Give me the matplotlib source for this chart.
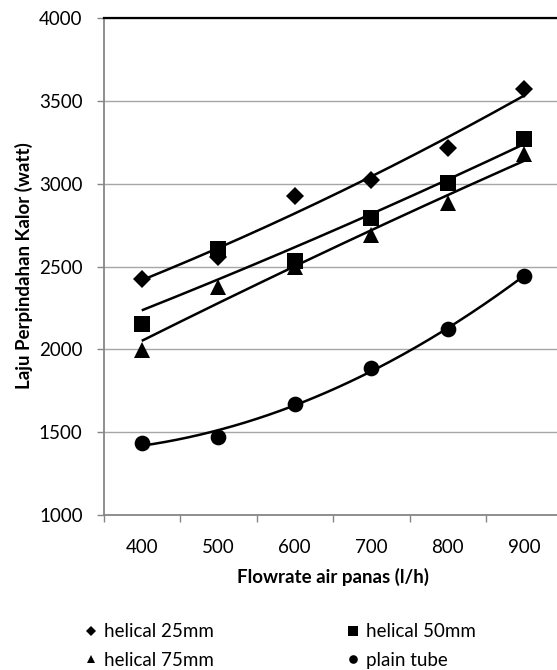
import numpy as np
import matplotlib
matplotlib.use("Agg")
import matplotlib.pyplot as plt
from matplotlib.lines import Line2D

plt.rcParams['font.family'] = ['Lato', 'DejaVu Sans']

flow = [400, 500, 600, 700, 800, 900]
helical_25 = [2423, 2556, 2926, 3022, 3215, 3570]
helical_50 = [2153, 2608, 2533, 2791, 3008, 3268]
helical_75 = [1996, 2379, 2500, 2690, 2882, 3179]
plain_tube = [1437, 1473, 1672, 1890, 2121, 2443]

series_names = ['helical 25mm', 'helical 50mm', 'helical 75mm', 'plain tube']
series_values = [helical_25, helical_50, helical_75, plain_tube]
markers = ['D', 's', '^', 'o']
msizes = [9, 12, 11, 11.3]

y_ticks = [1000, 1500, 2000, 2500, 3000, 3500, 4000]
x_label = 'Flowrate air panas (l/h)'
y_label = 'Laju Perpindahan Kalor (watt)'

W, H = 557, 670
fig = plt.figure(figsize=(W / 100, H / 100), dpi=100)
left, right, top, bottom = 103.5, 562.5, 18.3, 515
ax = fig.add_axes([left / W, 1 - bottom / H, (right - left) / W, (bottom - top) / H])

x = np.array(flow, dtype=float)
xs = np.linspace(x[0], x[-1], 200)
for vals, m, ms in zip(series_values, markers, msizes):
    ax.plot(x, vals, linestyle='none', marker=m, markersize=ms,
            color='black', markeredgewidth=0, zorder=3)
    coef = np.polyfit(x, vals, 2)
    ax.plot(xs, np.polyval(coef, xs), color='black', lw=1.8, zorder=2,
            solid_capstyle='butt')

ax.set_xlim(350, 950)
ax.set_ylim(1000, 4000)
ax.set_yticks(y_ticks)
ax.set_yticklabels([str(v) for v in y_ticks])
edges = [350, 450, 550, 650, 750, 850, 950]
ax.set_xticks(edges)
ax.set_xticklabels([''] * len(edges))
ax.set_xticks(flow, minor=True)
ax.set_xticklabels([str(v) for v in flow], minor=True)
ax.tick_params(axis='x', which='major', length=5, width=1, color='#868686', direction='out')
ax.tick_params(axis='x', which='minor', length=0, pad=17, labelsize=13.5)
ax.tick_params(axis='y', length=5, width=1, color='#868686', direction='out', pad=10, labelsize=13.5)

ax.grid(axis='y', color='#a6a6a6', lw=1.0)
ax.set_axisbelow(True)
for s in ['left', 'bottom']:
    ax.spines[s].set_color('#868686')
    ax.spines[s].set_linewidth(1.3)
ax.spines['top'].set_color('black')
ax.spines['top'].set_linewidth(1.6)
ax.spines['right'].set_visible(False)

fig.text(333 / W, 1 - 577 / H, x_label, ha='center', va='center',
         fontsize=13.5, fontweight='bold')
fig.text(24 / W, 1 - 266 / H, y_label, ha='center', va='center',
         rotation=90, fontsize=13.5, fontweight='bold')

handles = [Line2D([], [], linestyle='none', marker=m, markersize=ms * 0.55,
                  color='black', markeredgewidth=0)
           for m, ms in zip(markers, msizes)]
# legend is filled row by row: reorder for matplotlib's column-wise fill
order = [0, 2, 1, 3]
leg = fig.legend([handles[i] for i in order], [series_names[i] for i in order],
                 loc='center left', ncol=2,
                 bbox_to_anchor=(84 / W, 1 - 646 / H), frameon=False,
                 fontsize=13.5, handlelength=0.7, handletextpad=0.35,
                 columnspacing=7.1, labelspacing=0.6, borderpad=0,
                 borderaxespad=0)

fig.savefig('out.png', dpi=100)
